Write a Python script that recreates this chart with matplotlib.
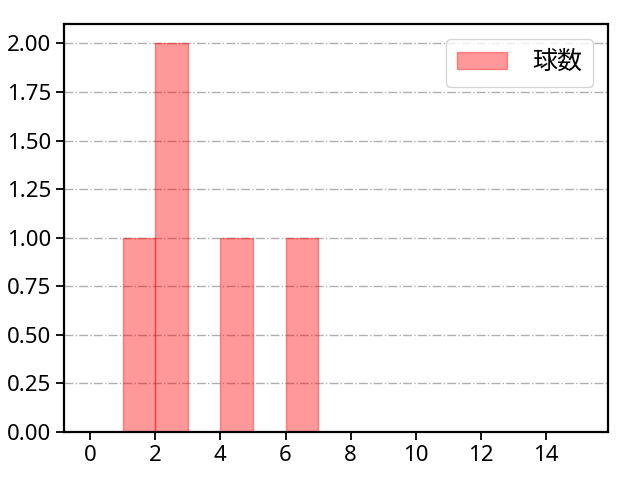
import matplotlib
matplotlib.use("Agg")
import matplotlib.pyplot as plt
import numpy as np

plt.rcParams['font.family'] = ['Noto Sans', 'Noto Sans CJK JP']

# 球数の分布 (ビン幅 1)
bin_edges = np.arange(0, 17)
counts = [0, 1, 2, 0, 1, 0, 1, 0, 0, 0, 0, 0, 0, 0, 0, 0]
label = "球数"

fig, ax = plt.subplots(figsize=(6.4, 4.8), dpi=100)
ax.bar(bin_edges[:-1], counts, width=1, align='edge',
       color='red', alpha=0.4, edgecolor='red', linewidth=1, label=label)
ax.set_xlim(-0.8, 15.9)
ax.set_ylim(0, 2.1)
ax.set_xticks(np.arange(0, 16, 2))
ax.set_yticks(np.arange(0, 2.01, 0.25))
ax.yaxis.set_major_formatter(matplotlib.ticker.FormatStrFormatter('%.2f'))
ax.tick_params(labelsize=16, length=6, width=1.3)
ax.grid(axis='y', linestyle='-.', color='#b0b0b0', linewidth=1.0)
ax.set_axisbelow(True)
for s in ax.spines.values():
    s.set_linewidth(1.6)
ax.legend(loc='upper right', fontsize=18, handlelength=2.0, borderpad=0.45,
          borderaxespad=0.6, handletextpad=1.0)
fig.subplots_adjust(left=0.1, right=0.95, top=0.95, bottom=0.1)
fig.savefig("out.png")
